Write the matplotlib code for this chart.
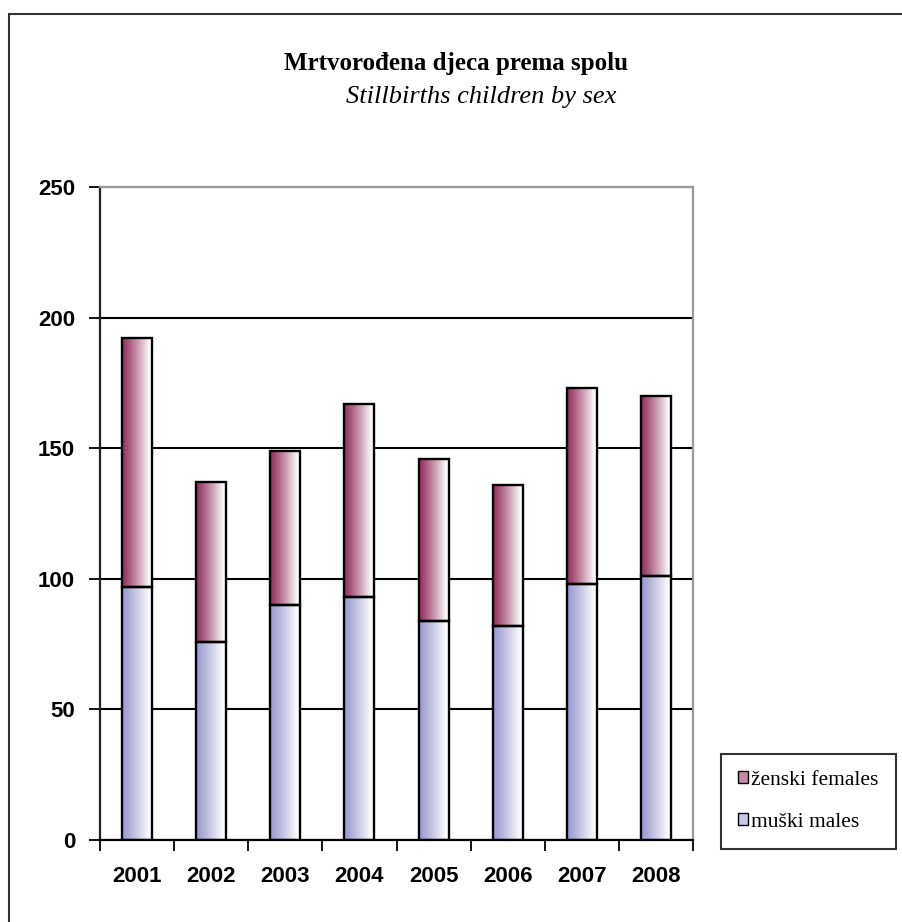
import matplotlib
matplotlib.use('Agg')
import matplotlib.pyplot as plt
import numpy as np
from matplotlib.patches import Rectangle, Patch
from matplotlib.colors import to_rgb

# podaci
godine = ['2001', '2002', '2003', '2004', '2005', '2006', '2007', '2008']
muski = [97, 76, 90, 93, 84, 82, 98, 101]
ukupno = [192, 137, 149, 167, 146, 136, 173, 170]
zenski = [u - m for u, m in zip(ukupno, muski)]

boja_z = '#93305f'
boja_m = '#9a9ad0'

fig = plt.figure(figsize=(9.02, 9.22), dpi=100)
ax = fig.add_axes([0.1109, 0.0889, 0.6574, 0.7083])

x = np.arange(len(godine))
b_m = ax.bar(x, muski, width=0.405, facecolor='none', edgecolor='black', linewidth=1.7, zorder=3)
b_z = ax.bar(x, zenski, bottom=muski, width=0.405, facecolor='none', edgecolor='black', linewidth=1.7, zorder=3)


def gradijent(bars, boja):
    c = np.array(to_rgb(boja))
    t = np.clip(np.linspace(0, 1.1, 64), 0, 1) ** 1.15
    img = c[None, :] + (1 - c[None, :]) * t[:, None]
    img = img[None, :, :]
    for p in bars:
        x0, y0 = p.get_x(), p.get_y()
        im = ax.imshow(img, extent=[x0, x0 + p.get_width(), y0, y0 + p.get_height()],
                       aspect='auto', zorder=2.5, interpolation='bilinear')
        im.set_clip_path(p)


gradijent(b_m, boja_m)
gradijent(b_z, boja_z)

ax.set_xlim(-0.5, len(godine) - 0.5)
ax.set_ylim(0, 250)
ax.set_yticks([0, 50, 100, 150, 200, 250])
ax.yaxis.grid(True, color='black', linewidth=1.5, zorder=1)
ax.set_axisbelow(True)

ax.set_xticks(x)
ax.set_xticklabels(godine)
ax.set_xticks(np.arange(-0.5, len(godine)), minor=True)
ax.tick_params(axis='x', which='major', length=0, pad=19)
ax.tick_params(axis='x', which='minor', length=8, width=1.3, direction='out')
ax.tick_params(axis='y', length=8, width=1.3, pad=10)
for lab in ax.get_xticklabels() + ax.get_yticklabels():
    lab.set_fontfamily('Liberation Sans')
    lab.set_fontweight('bold')
    lab.set_fontsize(16)

ax.spines['left'].set_color('#222222')
ax.spines['left'].set_linewidth(1.6)
ax.spines['bottom'].set_linewidth(1.6)
ax.spines['top'].set_color('#999999')
ax.spines['top'].set_linewidth(1.6)
ax.spines['right'].set_color('#999999')
ax.spines['right'].set_linewidth(1.6)

fig.text(0.506, 0.931, 'Mrtvorođena djeca prema spolu', ha='center', va='center',
         fontfamily='Liberation Serif', fontweight='bold', fontsize=18)
fig.text(0.533, 0.895, 'Stillbirths children by sex', ha='center', va='center',
         fontfamily='Liberation Serif', fontstyle='italic', fontsize=19)

# okvir oko cijele slike
fig.patches.append(Rectangle((0.01, -0.1), 1.2, 1.085, transform=fig.transFigure,
                             fill=False, edgecolor='#333333', linewidth=1.5))

ruc = [Patch(facecolor='#c48aa8', edgecolor='black', label='ženski females'),
       Patch(facecolor='#c8c8ea', edgecolor='black', label='muški males')]
leg = fig.legend(handles=ruc, loc='center', bbox_to_anchor=(0.8965, 0.131),
                 prop={'family': 'Liberation Serif', 'size': 15.5}, frameon=True,
                 fancybox=False, edgecolor='black', handlelength=0.45, handleheight=0.45,
                 handletextpad=0.15, labelspacing=1.05, borderpad=0.8, borderaxespad=0)
leg.get_frame().set_linewidth(1.5)

fig.savefig('out.png', dpi=100)
